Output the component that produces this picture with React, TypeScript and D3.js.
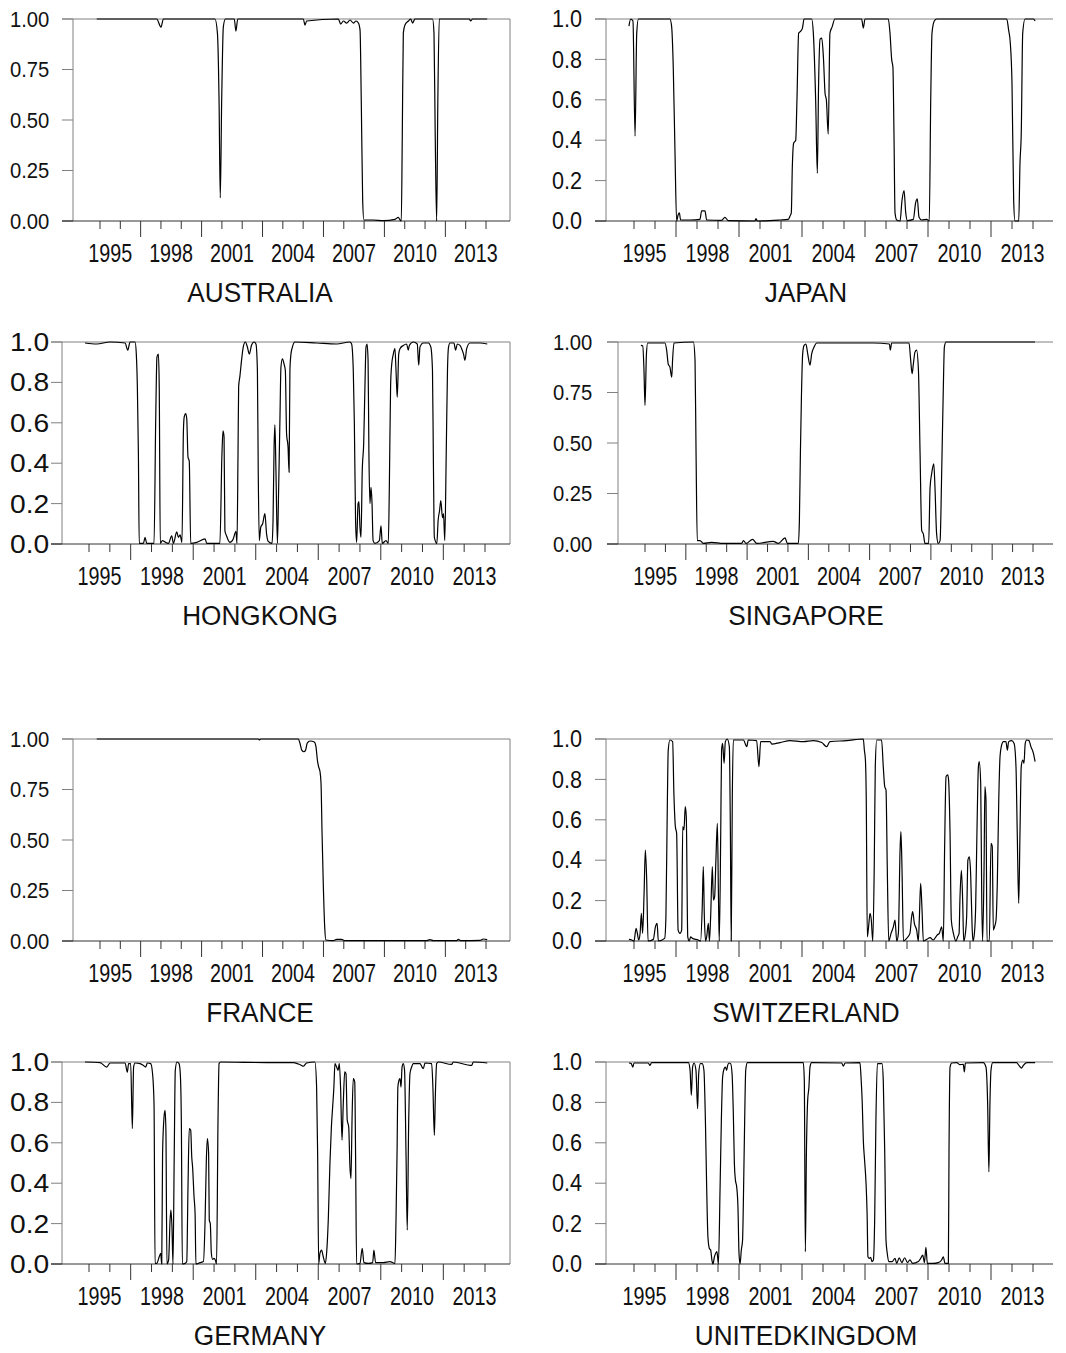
import React from 'react';
import * as d3 from 'd3';

// smoothed regime probabilities as [year, probability]
const australia: [number, number][] = [
  [1994.84, 1], [1997.79, 1], [1998.0, 0.96], [1998.12, 1], [2000.66, 1], [2000.78, 0.93], [2000.86, 0.6],
  [2000.92, 0.115], [2000.99, 0.6], [2001.07, 0.96], [2001.17, 1], [2001.61, 1], [2001.69, 0.94], [2001.78, 1],
  [2005.01, 1], [2005.09, 0.97], [2005.17, 0.99], [2006.73, 1], [2006.85, 0.975], [2006.98, 0.99], [2007.14, 0.98],
  [2007.31, 0.995], [2007.47, 0.98], [2007.6, 0.99], [2007.72, 0.98], [2007.8, 0.945], [2007.86, 0.6], [2007.93, 0.1],
  [2007.99, 0.005], [2008.45, 0.005], [2008.95, 0.002], [2009.52, 0.008], [2009.68, 0.018], [2009.77, 0.005],
  [2009.83, 0], [2009.88, 0.43], [2009.93, 0.93], [2010.01, 0.97], [2010.18, 0.99], [2010.29, 1], [2010.39, 0.98],
  [2010.5, 1], [2011.37, 1], [2011.44, 0.93], [2011.5, 0.43], [2011.57, 0], [2011.63, 0.6], [2011.7, 1],
  [2013.18, 1], [2013.24, 0.99], [2013.34, 1], [2014.06, 1],
];

const japan: [number, number][] = [
  [1994.76, 0.965], [1994.84, 1], [1994.95, 0.99], [1995.05, 0.42], [1995.13, 0.93], [1995.21, 1], [1996.71, 1],
  [1996.79, 0.965], [1996.87, 0.76], [1996.95, 0.35], [1997.03, 0], [1997.1, 0.03], [1997.16, 0.04], [1997.22, 0.005],
  [1997.67, 0.005], [1998.14, 0.008], [1998.22, 0.05], [1998.38, 0.05], [1998.46, 0.005], [1999.17, 0.003],
  [1999.33, 0.018], [1999.49, 0.002], [2000.76, 0], [2000.81, 0.012], [2000.87, 0], [2001.95, 0.005],
  [2002.35, 0.008], [2002.43, 0.025], [2002.49, 0.04], [2002.54, 0.27], [2002.6, 0.385], [2002.7, 0.4],
  [2002.76, 0.6], [2002.84, 0.93], [2002.94, 0.94], [2003.02, 0.955], [2003.1, 1], [2003.46, 1], [2003.54, 0.93],
  [2003.65, 0.6], [2003.73, 0.236], [2003.79, 0.68], [2003.86, 0.9], [2003.94, 0.905], [2004.02, 0.81],
  [2004.1, 0.63], [2004.16, 0.6], [2004.25, 0.43], [2004.33, 0.93], [2004.43, 0.96], [2004.57, 1], [2005.84, 1],
  [2005.92, 0.955], [2006.0, 1], [2007.11, 1], [2007.19, 0.93], [2007.27, 0.8], [2007.33, 0.76], [2007.38, 0.43],
  [2007.43, 0.04], [2007.51, 0.005], [2007.67, 0], [2007.76, 0.1], [2007.86, 0.15], [2007.94, 0.04],
  [2008.02, 0.002], [2008.3, 0.008], [2008.41, 0.09], [2008.49, 0.11], [2008.57, 0.02], [2008.7, 0.005],
  [2008.94, 0.008], [2009.06, 0], [2009.13, 0.6], [2009.19, 0.93], [2009.3, 0.99], [2009.41, 1], [2010.68, 1],
  [2012.75, 1], [2012.84, 0.945], [2012.92, 0.88], [2013.0, 0.68], [2013.08, 0.1], [2013.14, 0], [2013.32, 0],
  [2013.38, 0.285], [2013.44, 0.43], [2013.51, 0.93], [2013.62, 1], [2014.02, 1], [2014.1, 0.99],
];

const hongkong: [number, number][] = [
  [1994.81, 0.995], [1995.37, 0.99], [1996.01, 1], [1996.73, 0.995], [1996.86, 0.96], [1996.97, 1], [1997.21, 1],
  [1997.27, 0.94], [1997.32, 0.78], [1997.37, 0.45], [1997.41, 0.003], [1997.61, 0.003], [1997.69, 0.033],
  [1997.77, 0.003], [1998.12, 0.003], [1998.2, 0.61], [1998.26, 0.925], [1998.33, 0.94], [1998.37, 0.78],
  [1998.42, 0.003], [1998.52, 0.017], [1998.6, 0.013], [1998.81, 0.003], [1998.97, 0.04], [1999.05, 0.003],
  [1999.21, 0.06], [1999.29, 0.033], [1999.37, 0.045], [1999.46, 0.008], [1999.53, 0.56], [1999.57, 0.63],
  [1999.64, 0.645], [1999.69, 0.62], [1999.75, 0.43], [1999.81, 0.41], [1999.88, 0.003], [2000.17, 0.008],
  [2000.57, 0.025], [2000.65, 0.003], [2001.28, 0.003], [2001.38, 0.45], [2001.43, 0.56], [2001.48, 0.53],
  [2001.52, 0.066], [2001.6, 0.04], [2001.76, 0.008], [2001.92, 0.025], [2002.05, 0.063], [2002.1, 0.003],
  [2002.15, 0.45], [2002.18, 0.78], [2002.24, 0.83], [2002.32, 0.91], [2002.4, 0.975], [2002.5, 1], [2002.6, 0.975],
  [2002.69, 0.94], [2002.8, 0.985], [2002.92, 1], [2003.01, 0.99], [2003.08, 0.86], [2003.12, 0.36],
  [2003.17, 0.017], [2003.24, 0.083], [2003.33, 0.1], [2003.44, 0.15], [2003.52, 0.05], [2003.6, 0.013],
  [2003.78, 0.003], [2003.83, 0.115], [2003.88, 0.48], [2003.92, 0.59], [2003.97, 0.36], [2004.04, 0.003],
  [2004.1, 0.28], [2004.16, 0.61], [2004.21, 0.876], [2004.28, 0.917], [2004.36, 0.89], [2004.42, 0.86],
  [2004.48, 0.545], [2004.55, 0.48], [2004.6, 0.355], [2004.64, 0.86], [2004.69, 0.94], [2004.76, 0.975],
  [2004.88, 1], [2005.92, 0.995], [2006.88, 0.99], [2007.52, 1], [2007.6, 0.99], [2007.68, 0.86], [2007.73, 0.61],
  [2007.79, 0.115], [2007.84, 0.008], [2007.91, 0.2], [2007.95, 0.21], [2008.0, 0.083], [2008.05, 0.033],
  [2008.11, 0.36], [2008.18, 0.5], [2008.24, 0.78], [2008.29, 0.975], [2008.34, 0.99], [2008.39, 0.91],
  [2008.43, 0.45], [2008.48, 0.2], [2008.53, 0.28], [2008.58, 0.2], [2008.63, 0.017], [2008.72, 0.003],
  [2008.93, 0.017], [2009.01, 0.09], [2009.07, 0.003], [2009.25, 0.017], [2009.36, 0.003], [2009.41, 0.28],
  [2009.47, 0.78], [2009.52, 0.885], [2009.6, 0.94], [2009.68, 0.967], [2009.73, 0.86], [2009.79, 0.727],
  [2009.86, 0.94], [2009.92, 0.967], [2010.08, 0.983], [2010.24, 0.99], [2010.32, 0.96], [2010.37, 0.983],
  [2010.56, 1], [2010.75, 0.99], [2010.82, 0.885], [2010.88, 0.975], [2011.04, 0.995], [2011.28, 0.995],
  [2011.4, 0.975], [2011.48, 0.86], [2011.52, 0.45], [2011.57, 0.033], [2011.69, 0.003], [2011.75, 0.115],
  [2011.82, 0.165], [2011.88, 0.215], [2011.96, 0.13], [2012.01, 0.15], [2012.07, 0.017], [2012.14, 0.45],
  [2012.2, 0.86], [2012.25, 0.975], [2012.32, 0.995], [2012.51, 0.995], [2012.59, 0.96], [2012.67, 0.99],
  [2012.8, 0.983], [2012.88, 0.967], [2012.97, 0.94], [2013.04, 0.91], [2013.12, 0.967], [2013.28, 0.995],
  [2013.76, 0.995], [2014.11, 0.99],
];

const singapore: [number, number][] = [
  [1994.8, 0.983], [1994.89, 0.98], [1994.95, 0.86], [1995.0, 0.686], [1995.07, 0.94], [1995.13, 0.995],
  [1995.98, 0.995], [1996.06, 0.96], [1996.14, 0.89], [1996.22, 0.876], [1996.31, 0.826], [1996.35, 0.91],
  [1996.42, 0.995], [1997.37, 1], [1997.45, 0.91], [1997.5, 0.45], [1997.56, 0.017], [1997.69, 0.017],
  [1997.86, 0.003], [1998.26, 0.008], [1998.84, 0.003], [1999.73, 0.003], [1999.82, 0.017], [1999.95, 0.003],
  [2000.27, 0.023], [2000.47, 0.003], [2001.28, 0.013], [2001.53, 0.003], [2001.86, 0.03], [2001.97, 0.003],
  [2002.51, 0.003], [2002.56, 0.115], [2002.61, 0.45], [2002.66, 0.727], [2002.72, 0.94], [2002.79, 0.983],
  [2002.88, 0.99], [2002.97, 0.94], [2003.08, 0.885], [2003.16, 0.94], [2003.28, 0.975], [2003.41, 0.995],
  [2004.55, 0.995], [2006.18, 0.995], [2006.97, 0.99], [2007.01, 0.96], [2007.08, 0.995], [2007.93, 0.995],
  [2008.01, 0.91], [2008.08, 0.843], [2008.14, 0.89], [2008.22, 0.95], [2008.3, 0.96], [2008.39, 0.86],
  [2008.47, 0.446], [2008.55, 0.066], [2008.63, 0.05], [2008.71, 0.003], [2008.89, 0.003], [2008.96, 0.28],
  [2009.04, 0.35], [2009.14, 0.397], [2009.2, 0.28], [2009.28, 0.05], [2009.36, 0.003], [2009.45, 0.017],
  [2009.53, 0.364], [2009.61, 0.78], [2009.66, 0.975], [2009.74, 1], [2014.1, 1],
];

const france: [number, number][] = [
  [1994.84, 1], [2002.79, 1], [2002.84, 0.995], [2002.91, 1], [2004.76, 1], [2004.84, 0.98], [2004.93, 0.945],
  [2005.04, 0.937], [2005.12, 0.945], [2005.2, 0.98], [2005.34, 0.99], [2005.55, 0.985], [2005.63, 0.962],
  [2005.7, 0.896], [2005.76, 0.863], [2005.83, 0.838], [2005.88, 0.78], [2005.93, 0.533], [2005.99, 0.285],
  [2006.06, 0.07], [2006.12, 0.005], [2006.48, 0.002], [2006.65, 0.008], [2006.89, 0.008], [2007.06, 0.002],
  [2011.08, 0.002], [2011.24, 0.007], [2011.41, 0.002], [2012.56, 0.002], [2012.64, 0.008], [2012.75, 0.002],
  [2013.7, 0.003], [2013.87, 0.01], [2014.06, 0.007],
];

const switzerland: [number, number][] = [
  [1994.76, 0.008], [1994.89, 0.005], [1995.0, 0], [1995.1, 0.063], [1995.16, 0.038], [1995.22, 0.005],
  [1995.29, 0.038], [1995.35, 0.137], [1995.41, 0.038], [1995.48, 0.236], [1995.54, 0.45], [1995.6, 0.318],
  [1995.67, 0], [1995.92, 0.008], [1996.02, 0.07], [1996.1, 0.087], [1996.16, 0], [1996.46, 0.013],
  [1996.52, 0.12], [1996.59, 0.7], [1996.63, 0.945], [1996.71, 0.995], [1996.84, 0.987], [1996.9, 0.73],
  [1996.97, 0.566], [1997.03, 0.533], [1997.1, 0.054], [1997.19, 0.038], [1997.27, 0.054], [1997.32, 0.566],
  [1997.38, 0.55], [1997.44, 0.665], [1997.49, 0.615], [1997.56, 0.02], [1997.63, 0], [1997.7, 0.02],
  [1997.78, 0.013], [1998.06, 0.005], [1998.17, 0], [1998.25, 0.17], [1998.3, 0.368], [1998.35, 0.12],
  [1998.41, 0], [1998.46, 0.02], [1998.54, 0.087], [1998.59, 0], [1998.65, 0.12], [1998.73, 0.368],
  [1998.78, 0.203], [1998.84, 0.22], [1998.9, 0.4], [1998.97, 0.583], [1999.02, 0.236], [1999.06, 0],
  [1999.13, 0.533], [1999.17, 0.945], [1999.22, 0.978], [1999.29, 0.88], [1999.35, 0.987], [1999.44, 1],
  [1999.54, 0.962], [1999.59, 0.533], [1999.63, 0], [1999.68, 0.7], [1999.73, 0.995], [2000.21, 0.995],
  [2000.37, 0.962], [2000.44, 0.995], [2000.84, 0.992], [2000.95, 0.863], [2001.03, 0.987], [2001.48, 0.987],
  [2001.56, 0.975], [2001.95, 0.982], [2002.43, 0.992], [2003.06, 0.987], [2003.54, 0.992], [2003.94, 0.983],
  [2004.17, 0.962], [2004.33, 0.987], [2005.13, 0.992], [2005.92, 1], [2005.97, 0.945], [2006.02, 0.896],
  [2006.06, 0.7], [2006.11, 0.02], [2006.17, 0.07], [2006.24, 0.137], [2006.3, 0.104], [2006.37, 0],
  [2006.44, 0.368], [2006.49, 0.863], [2006.56, 0.995], [2006.79, 0.995], [2006.87, 0.863], [2006.94, 0.764],
  [2007.0, 0.748], [2007.06, 0.368], [2007.13, 0], [2007.24, 0.038], [2007.35, 0.07], [2007.43, 0.104],
  [2007.51, 0], [2007.59, 0.038], [2007.67, 0.45], [2007.71, 0.541], [2007.76, 0.368], [2007.83, 0],
  [2007.98, 0.013], [2008.14, 0.038], [2008.22, 0.12], [2008.27, 0.145], [2008.35, 0.087], [2008.46, 0.054],
  [2008.54, 0], [2008.59, 0.12], [2008.65, 0.285], [2008.71, 0.17], [2008.78, 0], [2008.94, 0.008],
  [2009.1, 0.017], [2009.25, 0.005], [2009.44, 0.03], [2009.54, 0.038], [2009.65, 0.07], [2009.73, 0],
  [2009.79, 0.45], [2009.86, 0.814], [2009.94, 0.822], [2009.98, 0.797], [2010.05, 0.533], [2010.11, 0.104],
  [2010.21, 0.038], [2010.33, 0], [2010.41, 0.02], [2010.48, 0.038], [2010.52, 0.203], [2010.59, 0.35],
  [2010.65, 0.203], [2010.7, 0], [2010.78, 0.038], [2010.84, 0.12], [2010.9, 0.4], [2010.97, 0.417],
  [2011.03, 0.335], [2011.1, 0.07], [2011.14, 0], [2011.21, 0.038], [2011.27, 0.17], [2011.33, 0.533],
  [2011.4, 0.863], [2011.44, 0.888], [2011.51, 0.78], [2011.56, 0.203], [2011.6, 0], [2011.67, 0.368],
  [2011.71, 0.764], [2011.76, 0.7], [2011.81, 0], [2011.92, 0], [2012.0, 0.483], [2012.06, 0.467],
  [2012.11, 0.054], [2012.17, 0.07], [2012.24, 0.104], [2012.3, 0.285], [2012.37, 0.7], [2012.43, 0.913],
  [2012.49, 0.962], [2012.59, 0.987], [2012.71, 0.987], [2012.78, 0.945], [2012.84, 0.987], [2012.98, 0.992],
  [2013.1, 0.978], [2013.19, 0.863], [2013.25, 0.533], [2013.32, 0.186], [2013.38, 0.533], [2013.44, 0.863],
  [2013.51, 0.896], [2013.57, 0.88], [2013.63, 0.978], [2013.7, 0.995], [2013.81, 0.992], [2013.9, 0.962],
  [2014.02, 0.929], [2014.1, 0.888],
];

const germany: [number, number][] = [
  [1994.81, 1], [1995.53, 0.997], [1995.85, 0.975], [1996.01, 0.995], [1996.73, 0.995], [1996.84, 0.95],
  [1996.9, 0.992], [1997.0, 0.992], [1997.08, 0.67], [1997.14, 0.975], [1997.21, 0.995], [1997.45, 0.992],
  [1997.61, 0.983], [1997.72, 0.975], [1997.8, 0.995], [1997.96, 0.992], [1998.05, 0.942], [1998.12, 0.794],
  [1998.17, 0.003], [1998.25, 0.003], [1998.37, 0.036], [1998.44, 0.053], [1998.49, 0], [1998.53, 0.547],
  [1998.6, 0.728], [1998.65, 0.761], [1998.69, 0.662], [1998.74, 0], [1998.82, 0.02], [1998.89, 0.217],
  [1998.93, 0.267], [1998.98, 0.185], [1999.03, 0], [1999.09, 0.547], [1999.14, 0.959], [1999.22, 1],
  [1999.32, 0.992], [1999.38, 0.942], [1999.43, 0.712], [1999.48, 0], [1999.61, 0.003], [1999.69, 0.012],
  [1999.75, 0.382], [1999.81, 0.67], [1999.88, 0.662], [1999.93, 0.53], [1999.97, 0.48], [2000.04, 0.333],
  [2000.09, 0.25], [2000.13, 0], [2000.33, 0.007], [2000.49, 0.012], [2000.57, 0.217], [2000.63, 0.514],
  [2000.68, 0.621], [2000.74, 0.547], [2000.77, 0.217], [2000.82, 0.2], [2000.87, 0.053], [2000.93, 0.023],
  [2001.0, 0.028], [2001.06, 0.02], [2001.12, 0], [2001.19, 0.712], [2001.24, 0.992], [2001.32, 1],
  [2003.52, 0.997], [2004.8, 0.997], [2005.04, 0.99], [2005.2, 0.983], [2005.28, 0.979], [2005.44, 0.995],
  [2005.84, 1], [2005.92, 0.876], [2005.97, 0.547], [2006.02, 0], [2006.08, 0.053], [2006.16, 0.069],
  [2006.24, 0.036], [2006.34, 0.003], [2006.4, 0.053], [2006.48, 0.217], [2006.56, 0.498], [2006.63, 0.679],
  [2006.69, 0.778], [2006.75, 0.876], [2006.8, 0.992], [2006.88, 0.975], [2006.95, 0.959], [2007.01, 0.992],
  [2007.07, 0.876], [2007.14, 0.613], [2007.2, 0.794], [2007.27, 0.951], [2007.33, 0.942], [2007.39, 0.712],
  [2007.46, 0.679], [2007.52, 0.481], [2007.57, 0.423], [2007.62, 0.712], [2007.68, 0.918], [2007.75, 0.901],
  [2007.79, 0.547], [2007.84, 0], [2008.0, 0.003], [2008.11, 0.077], [2008.19, 0.007], [2008.4, 0.003],
  [2008.61, 0.007], [2008.67, 0.069], [2008.75, 0.007], [2009.12, 0.007], [2009.44, 0.012], [2009.68, 0.003],
  [2009.73, 0.217], [2009.78, 0.547], [2009.82, 0.876], [2009.87, 0.909], [2009.92, 0.918], [2009.97, 0.876],
  [2010.02, 0.975], [2010.08, 0.992], [2010.14, 0.959], [2010.21, 0.547], [2010.27, 0.168], [2010.34, 0.712],
  [2010.4, 0.942], [2010.48, 0.975], [2010.56, 0.992], [2010.88, 0.992], [2010.98, 0.975], [2011.04, 0.967],
  [2011.12, 0.995], [2011.44, 0.992], [2011.5, 0.876], [2011.57, 0.637], [2011.62, 0.843], [2011.68, 0.992],
  [2011.76, 1], [2012.4, 0.988], [2012.48, 1], [2013.36, 0.983], [2013.44, 1], [2014.11, 0.995],
];

const unitedkingdom: [number, number][] = [
  [1994.76, 0.995], [1994.87, 0.992], [1994.94, 0.975], [1995.0, 0.995], [1995.68, 0.995], [1995.76, 0.983],
  [1995.84, 0.997], [1997.59, 0.997], [1997.67, 0.959], [1997.73, 0.835], [1997.79, 0.975], [1997.86, 0.995],
  [1997.95, 0.959], [1998.03, 0.769], [1998.08, 0.942], [1998.16, 0.992], [1998.25, 0.992], [1998.33, 0.959],
  [1998.4, 0.712], [1998.46, 0.382], [1998.52, 0.135], [1998.59, 0.077], [1998.65, 0.069], [1998.71, 0.02],
  [1998.76, 0], [1998.83, 0.036], [1998.89, 0.053], [1998.95, 0.061], [1999.02, 0], [1999.1, 0.382],
  [1999.16, 0.712], [1999.22, 0.926], [1999.29, 0.967], [1999.35, 0.975], [1999.41, 0.959], [1999.46, 0.983],
  [1999.52, 0.995], [1999.6, 0.992], [1999.67, 0.942], [1999.73, 0.745], [1999.78, 0.498], [1999.83, 0.415],
  [1999.89, 0.382], [1999.95, 0.283], [2000.0, 0.053], [2000.05, 0], [2000.11, 0.069], [2000.17, 0.119],
  [2000.22, 0.382], [2000.27, 0.712], [2000.32, 0.959], [2000.4, 0.997], [2003.06, 0.997], [2003.11, 0.909],
  [2003.16, 0.061], [2003.21, 0.547], [2003.27, 0.81], [2003.33, 0.876], [2003.38, 0.975], [2003.46, 0.997],
  [2004.89, 0.995], [2004.97, 0.979], [2005.05, 0.995], [2005.76, 0.997], [2005.81, 0.926], [2005.87, 0.794],
  [2005.92, 0.613], [2005.98, 0.514], [2006.05, 0.399], [2006.1, 0.25], [2006.14, 0.036], [2006.21, 0.028],
  [2006.27, 0.033], [2006.33, 0.012], [2006.4, 0.02], [2006.46, 0.217], [2006.52, 0.712], [2006.59, 0.992],
  [2006.81, 0.992], [2006.87, 0.909], [2006.94, 0.547], [2007.0, 0.119], [2007.06, 0.053], [2007.13, 0.012],
  [2007.29, 0.012], [2007.43, 0.028], [2007.51, 0.003], [2007.63, 0.031], [2007.75, 0.007], [2007.89, 0.031],
  [2008.02, 0.007], [2008.14, 0.02], [2008.27, 0.003], [2008.54, 0.012], [2008.65, 0.028], [2008.75, 0.044],
  [2008.83, 0.007], [2008.9, 0.082], [2008.97, 0.003], [2009.25, 0.003], [2009.49, 0.007], [2009.65, 0.02],
  [2009.73, 0.036], [2009.81, 0.003], [2009.97, 0.003], [2010.0, 0.547], [2010.05, 0.975], [2010.13, 0.995],
  [2010.37, 0.997], [2010.52, 0.987], [2010.68, 0.988], [2010.73, 0.951], [2010.78, 0.995], [2011.63, 0.997],
  [2011.76, 0.975], [2011.84, 0.794], [2011.9, 0.456], [2011.95, 0.794], [2012.0, 0.959], [2012.08, 0.997],
  [2013.22, 0.997], [2013.33, 0.983], [2013.46, 0.97], [2013.54, 0.983], [2013.7, 0.997], [2014.1, 0.997],
];

const yearTicks = d3.range(1995, 2015);
const yearLabels = [1995, 1998, 2001, 2004, 2007, 2010, 2013];
const quarterTicks = [0, 0.25, 0.5, 0.75, 1];
const fifthTicks = [0, 0.2, 0.4, 0.6, 0.8, 1];

const FONT = '"Liberation Sans", Arial, Helvetica, sans-serif';
const PH = 202; // plot height

type Spec = {
  name: string; data: [number, number][]; ticks: number[]; fmt: string;
  frameL: number; x1995: number; x2014: number; frameR: number; rightBorder: boolean;
  top: number; labelX: number; ySize: number; ySx: number; titleX: number;
};

const specs: Spec[] = [
  { name: 'AUSTRALIA', data: australia, ticks: quarterTicks, fmt: '.2f', frameL: 73, x1995: 100, x2014: 486, frameR: 510, rightBorder: true, top: 19, labelX: 10, ySize: 22, ySx: 0.92, titleX: 260 },
  { name: 'JAPAN', data: japan, ticks: fifthTicks, fmt: '.1f', frameL: 606, x1995: 634, x2014: 1033, frameR: 1053, rightBorder: false, top: 19, labelX: 552, ySize: 23, ySx: 0.94, titleX: 806 },
  { name: 'HONGKONG', data: hongkong, ticks: fifthTicks, fmt: '.1f', frameL: 62, x1995: 89, x2014: 485, frameR: 510, rightBorder: true, top: 342, labelX: 10, ySize: 25, ySx: 1.13, titleX: 260 },
  { name: 'SINGAPORE', data: singapore, ticks: quarterTicks, fmt: '.2f', frameL: 618, x1995: 645, x2014: 1033, frameR: 1053, rightBorder: false, top: 342, labelX: 553, ySize: 22, ySx: 0.92, titleX: 806 },
  { name: 'FRANCE', data: france, ticks: quarterTicks, fmt: '.2f', frameL: 73, x1995: 100, x2014: 486, frameR: 510, rightBorder: true, top: 739, labelX: 10, ySize: 22, ySx: 0.92, titleX: 260 },
  { name: 'SWITZERLAND', data: switzerland, ticks: fifthTicks, fmt: '.1f', frameL: 606, x1995: 634, x2014: 1033, frameR: 1053, rightBorder: false, top: 739, labelX: 552, ySize: 23, ySx: 0.94, titleX: 806 },
  { name: 'GERMANY', data: germany, ticks: fifthTicks, fmt: '.1f', frameL: 62, x1995: 89, x2014: 485, frameR: 510, rightBorder: true, top: 1062, labelX: 10, ySize: 25, ySx: 1.13, titleX: 260 },
  { name: 'UNITEDKINGDOM', data: unitedkingdom, ticks: fifthTicks, fmt: '.1f', frameL: 606, x1995: 634, x2014: 1033, frameR: 1053, rightBorder: false, top: 1062, labelX: 552, ySize: 23, ySx: 0.94, titleX: 806 },
];

function Panel({ s }: { s: Spec }) {
  const x = d3.scaleLinear().domain([1995, 2014]).range([s.x1995, s.x2014]);
  const y = d3.scaleLinear().domain([0, 1]).range([s.top + PH, s.top]);
  const bottom = s.top + PH;
  const line = d3.line<[number, number]>().x(d => x(d[0])).y(d => y(d[1])).curve(d3.curveMonotoneX);
  const fmt = d3.format(s.fmt);
  const frame = '#808080';
  const axis = '#333';

  return (
    <g>
      {/* frame: top, left, right */}
      <line x1={s.frameL - 11} x2={s.frameR} y1={s.top} y2={s.top} stroke={frame} />
      <line x1={s.frameL} x2={s.frameL} y1={s.top} y2={bottom} stroke={frame} />
      {s.rightBorder && <line x1={s.frameR} x2={s.frameR} y1={s.top} y2={bottom} stroke={frame} />}

      {/* y ticks */}
      {s.ticks.map(t => (
        <g key={t}>
          <line x1={s.frameL - 11} x2={s.frameL} y1={y(t)} y2={y(t)} stroke={t === 0 ? axis : frame} />
          <text transform={`translate(${s.labelX},${y(t)}) scale(${s.ySx},1)`} dy="0.36em"
            fontSize={s.ySize} fontFamily={FONT} fill="#111">{fmt(t)}</text>
        </g>
      ))}

      {/* x axis */}
      <line x1={s.frameL - 11} x2={s.frameR} y1={bottom} y2={bottom} stroke={axis} />
      {yearTicks.map(yr => (
        <line key={yr} x1={x(yr)} x2={x(yr)} y1={bottom} y2={bottom + ((yr - 1997) % 3 === 0 ? 16 : 8)} stroke={axis} />
      ))}
      {yearLabels.map(yr => (
        <text key={yr} transform={`translate(${x(yr + 0.5)},${bottom + 41}) scale(0.76,1)`} textAnchor="middle"
          fontSize={26} fontFamily={FONT} fill="#111">{yr}</text>
      ))}

      <path d={line(s.data) || ''} fill="none" stroke="#000" strokeWidth={1.2} strokeLinejoin="round" />

      <text transform={`translate(${s.titleX},${bottom + 81}) scale(0.97,1)`} textAnchor="middle"
        fontSize={27} fontFamily={FONT} fill="#111">{s.name}</text>
    </g>
  );
}

export default function App() {
  return (
    <div style={{ position: 'absolute', left: 0, top: 0 }}>
      <svg width={1066} height={1353} viewBox="0 0 1066 1353" style={{ display: 'block', background: '#fff' }}>
        {specs.map(s => <Panel key={s.name} s={s} />)}
      </svg>
    </div>
  );
}
